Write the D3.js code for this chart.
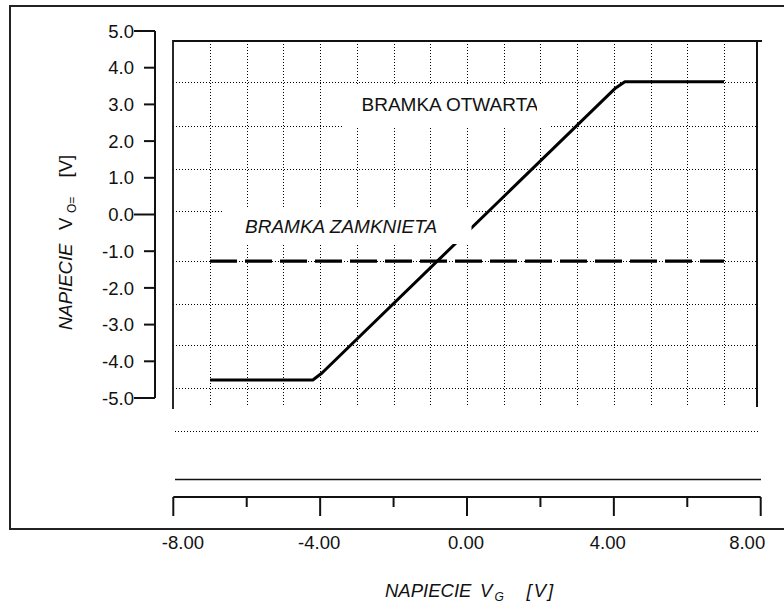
<!DOCTYPE html>
<html><head><meta charset="utf-8">
<script src="https://cdn.jsdelivr.net/npm/d3@7"></script>
<style>
body{margin:0;background:#fff}
svg{display:block}
text{font-family:"Liberation Sans",Arial,sans-serif;fill:#111}
</style>
</head><body>
<svg id="c" width="784" height="606"></svg>
<script>
// ---- data ----
const xTicks = [-8, -4, 0, 4, 8];
const xTickLabels = ["-8.00", "-4.00", "0.00", "4.00", "8.00"];
const xMinorTicks = [-6, -2, 2, 6];
const yTicks = [5, 4, 3, 2, 1, 0, -1, -2, -3, -4, -5];
const yTickLabels = ["5.0", "4.0", "3.0", "2.0", "1.0", "0.0", "-1.0", "-2.0", "-3.0", "-4.0", "-5.0"];
const gridX = [-7, -6, -5, -4, -3, -2, -1, 0, 1, 2, 3, 4, 5, 6, 7];
const gridY = [3.60, 2.41, 1.23, 0.10, -1.27, -2.44, -3.56, -4.73];
const openVG = [-7, -4.2, -3.95, 4.05, 4.3, 7];
const openVO = [-4.51, -4.51, -4.32, 3.45, 3.62, 3.62];
const closedVG = [-7, 7];
const closedVO = [-1.27, -1.27];
const labelOpen = "BRAMKA OTWARTA";
const labelClosed = "BRAMKA ZAMKNIETA";
const xTitle = ["NAPIECIE", "V", "G", "[V]"];
const yTitle = ["NAPIECIE", "V", "O=", "[V]"];

// ---- layout ----
const svg = d3.select("#c");
const x = d3.scaleLinear().domain([-8, 8]).range([173.3, 760.7]);
const y = d3.scaleLinear().domain([-5, 5]).range([398, 31]);
const plotTop = 41, plotLeft = 173, plotRight = 757, gridBottom = 406;
const FS = 18.5, FL = 19;

// grid
const grid = svg.append("g").attr("stroke", "#000").attr("stroke-width", 1).attr("stroke-dasharray", "1,2");
grid.selectAll("line.v").data(gridX).join("line").attr("class", "v")
  .attr("x1", d => Math.round(x(d)) + 0.5).attr("x2", d => Math.round(x(d)) + 0.5)
  .attr("y1", plotTop).attr("y2", gridBottom);
grid.selectAll("line.h").data(gridY).join("line").attr("class", "h")
  .attr("x1", plotLeft).attr("x2", plotRight)
  .attr("y1", d => Math.round(y(d)) + 0.5).attr("y2", d => Math.round(y(d)) + 0.5);

// curves
const line = d3.line().x(d => x(d[0])).y(d => y(d[1]));
svg.append("path").datum(closedVG.map((v, i) => [v, closedVO[i]]))
  .attr("d", line).attr("fill", "none").attr("stroke", "#000").attr("stroke-width", 3.2)
  .attr("stroke-dasharray", "27,8");
svg.append("path").datum(openVG.map((v, i) => [v, openVO[i]]))
  .attr("d", line).attr("fill", "none").attr("stroke", "#000").attr("stroke-width", 3)
  .attr("stroke-linejoin", "round");

// label boxes
svg.append("rect").attr("x", 342).attr("y", 84).attr("width", 208).attr("height", 44).attr("fill", "#fff");
svg.append("rect").attr("x", 224).attr("y", 207).attr("width", 247.5).attr("height", 37).attr("fill", "#fff");
svg.append("clipPath").attr("id", "clipOpen").append("rect").attr("x", 340).attr("y", 80).attr("width", 197).attr("height", 50);
svg.append("text").attr("x", 361.5).attr("y", 110.5).attr("font-size", FL).attr("clip-path", "url(#clipOpen)").text(labelOpen);
svg.append("text").attr("x", 245).attr("y", 233).attr("font-size", FL).attr("font-style", "italic").text(labelClosed);

// inner frame
svg.append("path").attr("d", `M${plotLeft},409V${plotTop}H762`).attr("fill", "none").attr("stroke", "#111").attr("stroke-width", 1.8);
svg.append("line").attr("x1", plotRight).attr("x2", plotRight).attr("y1", 40).attr("y2", 407).attr("stroke", "#111").attr("stroke-width", 2);

// lines below plot
svg.append("line").attr("x1", 175).attr("x2", 758).attr("y1", 431.5).attr("y2", 431.5)
  .attr("stroke", "#000").attr("stroke-dasharray", "1,2");
svg.append("line").attr("x1", 175).attr("x2", 761).attr("y1", 479.5).attr("y2", 479.5)
  .attr("stroke", "#111").attr("stroke-width", 1.5);

// outer frame
svg.append("path").attr("d", "M790,6H10V529H790").attr("fill", "none").attr("stroke", "#222").attr("stroke-width", 2);

// y axis
const ya = svg.append("g");
ya.append("line").attr("x1", 155).attr("x2", 155).attr("y1", y(5)).attr("y2", y(-5)).attr("stroke", "#111").attr("stroke-width", 2);
ya.selectAll("line.t").data(yTicks).join("line").attr("class", "t")
  .attr("x1", d => (d === 5 || d === 0 || d === -5) ? 134 : 144).attr("x2", 155)
  .attr("y1", d => y(d)).attr("y2", d => y(d)).attr("stroke", "#111").attr("stroke-width", 2);
ya.selectAll("text").data(yTicks).join("text")
  .attr("x", 134).attr("y", d => y(d)).attr("dy", "0.36em").attr("text-anchor", "end")
  .attr("font-size", FS).text((d, i) => yTickLabels[i]);

// x axis
const xa = svg.append("g");
xa.append("line").attr("x1", x(-8)).attr("x2", x(8)).attr("y1", 497).attr("y2", 497).attr("stroke", "#111").attr("stroke-width", 2);
xa.selectAll("line.M").data(xTicks).join("line").attr("class", "M")
  .attr("x1", d => x(d)).attr("x2", d => x(d)).attr("y1", 497).attr("y2", 516).attr("stroke", "#111").attr("stroke-width", 2);
xa.selectAll("line.m").data(xMinorTicks).join("line").attr("class", "m")
  .attr("x1", d => x(d)).attr("x2", d => x(d)).attr("y1", 497).attr("y2", 507).attr("stroke", "#111").attr("stroke-width", 2);
xa.selectAll("text").data(xTicks).join("text")
  .attr("x", (d, i) => i === 0 ? x(d) - 11.5 : i === xTicks.length - 1 ? x(d) + 4.5 : x(d) - (d > 0 ? 6 : 1))
  .attr("y", 548.5)
  .attr("text-anchor", (d, i) => i === 0 ? "start" : i === xTicks.length - 1 ? "end" : "middle")
  .attr("font-size", FS).text((d, i) => xTickLabels[i]);

// x title
const xt = svg.append("g").attr("font-style", "italic");
xt.append("text").attr("x", 385).attr("y", 597).attr("font-size", FS).text(xTitle[0]);
xt.append("text").attr("x", 480).attr("y", 597).attr("font-size", FS).text(xTitle[1]);
xt.append("text").attr("x", 494.5).attr("y", 601).attr("font-size", 12).text(xTitle[2]);
xt.append("text").attr("x", 526.5).attr("y", 597).attr("font-size", FS).attr("letter-spacing", 2).text(xTitle[3]);

// y title (rotated)
const yt = svg.append("g").attr("transform", "translate(71.5,0)");
yt.append("text").attr("transform", "translate(0,330) rotate(-90)").attr("font-size", FS).attr("font-style", "italic").text(yTitle[0]);
yt.append("text").attr("transform", "translate(0,230) rotate(-90)").attr("font-size", FS).text(yTitle[1]);
yt.append("text").attr("transform", "translate(4,213) rotate(-90)").attr("font-size", 12).text(yTitle[2]);
yt.append("text").attr("transform", "translate(0,177.5) rotate(-90)").attr("font-size", FS).text(yTitle[3]);
</script>
</body></html>
